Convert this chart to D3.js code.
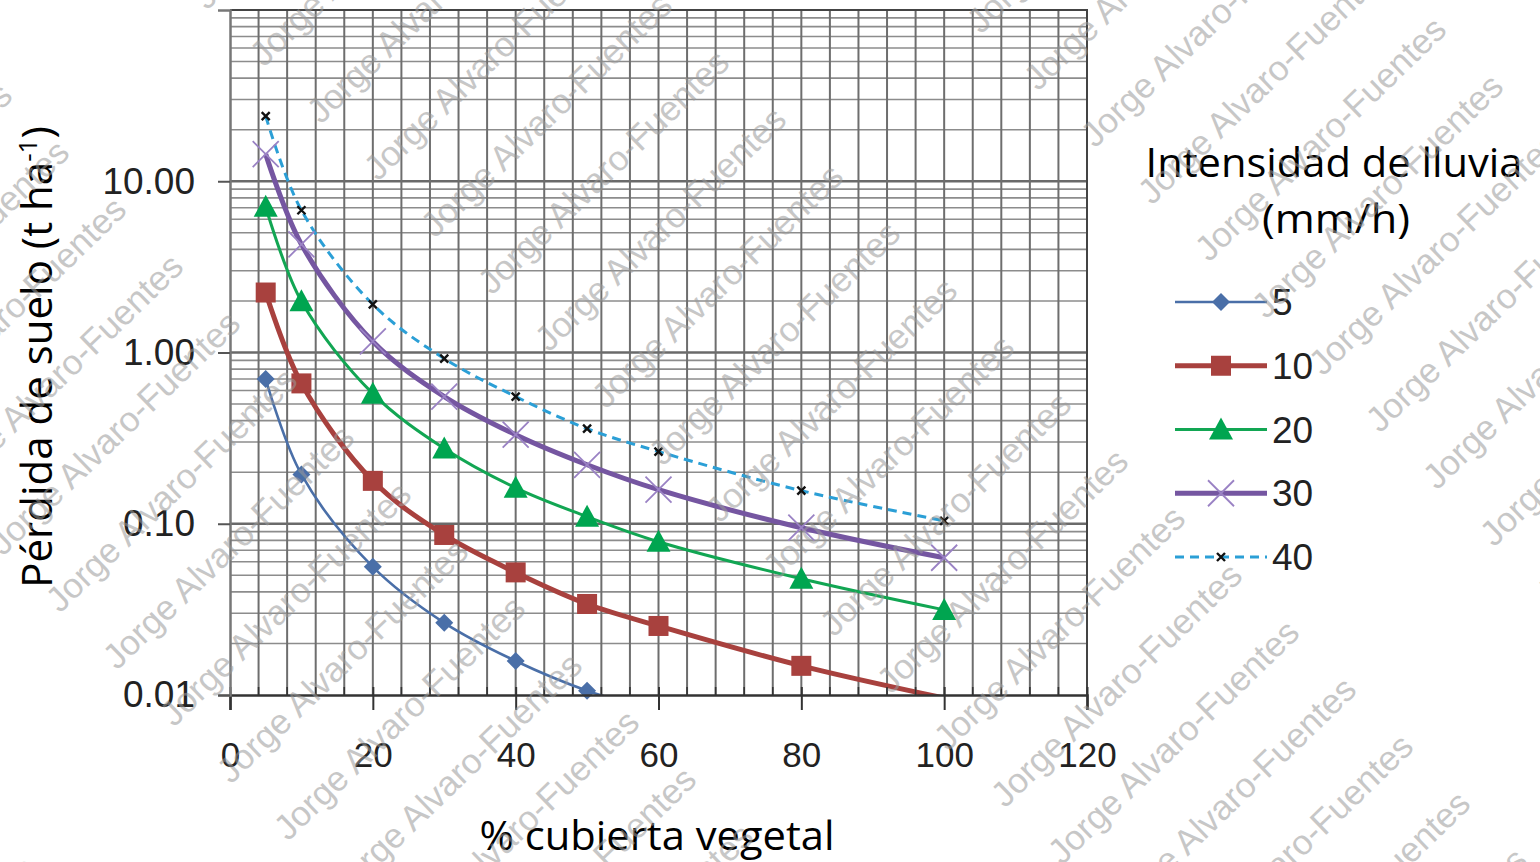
<!DOCTYPE html>
<html>
<head>
<meta charset="utf-8">
<script src="https://cdn.jsdelivr.net/npm/d3@7"></script>
<style>
  body { margin: 0; background: #fff; }
</style>
</head>
<body>
<div id="chart"></div>
<script>
// % cubierta vegetal
let cover = [5, 10, 20, 30, 40, 50, 60, 80, 100];
// perdida de suelo (t/ha) per rain intensity (mm/h)
let loss5  = [0.70, 0.194, 0.056, 0.0264, 0.0158, 0.0106, 0.0080];
let loss10 = [2.24, 0.66, 0.178, 0.086, 0.052, 0.034, 0.0253, 0.0148, 0.0096];
let loss20 = [7.1, 1.99, 0.575, 0.275, 0.162, 0.110, 0.0785, 0.0477, 0.0314];
let loss30 = [14.4, 4.28, 1.16, 0.553, 0.331, 0.221, 0.158, 0.0948, 0.0633];
let loss40 = [24.0, 6.77, 1.91, 0.922, 0.553, 0.359, 0.264, 0.156, 0.104];
let seriesNames = ['5', '10', '20', '30', '40'];
let xTicks = [0, 20, 40, 60, 80, 100, 120];
let yTicks = [10, 1, 0.1, 0.01];

let w = 1540, h = 862;
let pLeft = 230, pRight = 1087, pTop = 10, pBottom = 695;

let svg = d3.select('#chart').append('svg')
  .attr('width', w).attr('height', h)
  .style('font-family', 'Liberation Sans, Arial, sans-serif');

let x = d3.scaleLinear().domain([0, 120]).range([pLeft, pRight]);
let y = d3.scaleLog().domain([0.01, 100]).range([pBottom, pTop]);

// grid
let grid = svg.append('g');
let minorY = [];
[-2, -1, 0, 1].forEach(e => { for (let k = 2; k <= 9; k++) minorY.push(k * Math.pow(10, e)); });
grid.selectAll('.hmin').data(minorY).enter().append('line')
  .attr('x1', pLeft).attr('x2', pRight)
  .attr('y1', d => y(d)).attr('y2', d => y(d))
  .style('stroke', '#8c8c8c').style('stroke-width', 1.6);
grid.selectAll('.hmaj').data([0.1, 1, 10]).enter().append('line')
  .attr('x1', pLeft).attr('x2', pRight)
  .attr('y1', d => y(d)).attr('y2', d => y(d))
  .style('stroke', '#6a6a6a').style('stroke-width', 2.4);
grid.selectAll('.v').data(d3.range(4, 120, 4)).enter().append('line')
  .attr('x1', d => x(d)).attr('x2', d => x(d))
  .attr('y1', pTop).attr('y2', pBottom)
  .style('stroke', '#6e6e6e').style('stroke-width', 2);

// plot border top/right
svg.append('path')
  .attr('d', `M${pLeft},${pTop}H${pRight}V${pBottom}`)
  .style('fill', 'none').style('stroke', '#444').style('stroke-width', 2);

// series
let series = [
  {name: seriesNames[0], vals: loss5,  color: '#4a6fa8', width: 2.6, dash: null, marker: 'diamond'},
  {name: seriesNames[1], vals: loss10, color: '#a8413e', width: 5,   dash: null, marker: 'square'},
  {name: seriesNames[2], vals: loss20, color: '#12a653', width: 3,   dash: null, marker: 'triangle'},
  {name: seriesNames[3], vals: loss30, color: '#7556a1', width: 5,   dash: null, marker: 'cross'},
  {name: seriesNames[4], vals: loss40, color: '#2b9fd6', width: 3,   dash: '9,6', marker: 'x'}
];

svg.append('clipPath').attr('id', 'clip').append('rect')
  .attr('x', pLeft).attr('y', pTop).attr('width', pRight - pLeft).attr('height', pBottom - pTop);

let line = d3.line()
  .x((d, i) => x(cover[i]))
  .y(d => y(d))
  .curve(d3.curveCatmullRom.alpha(0.5));

let plot = svg.append('g').attr('clip-path', 'url(#clip)');
let markLayer = svg.append('g');

function drawMarker(g, s, cx, cy) {
  if (s.marker === 'diamond') {
    g.append('path').attr('d', `M${cx},${cy - 9}L${cx + 9},${cy}L${cx},${cy + 9}L${cx - 9},${cy}Z`)
      .style('fill', s.color);
  } else if (s.marker === 'square') {
    g.append('rect').attr('x', cx - 10).attr('y', cy - 10).attr('width', 20).attr('height', 20)
      .style('fill', s.color);
  } else if (s.marker === 'triangle') {
    g.append('path').attr('d', `M${cx},${cy - 12}L${cx + 12},${cy + 10}L${cx - 12},${cy + 10}Z`)
      .style('fill', '#00a550');
  } else if (s.marker === 'cross') {
    g.append('path').attr('d', `M${cx - 13},${cy - 13}L${cx + 13},${cy + 13}M${cx - 13},${cy + 13}L${cx + 13},${cy - 13}`)
      .style('stroke', '#9a82c4').style('stroke-width', 1.8).style('fill', 'none');
  } else {
    g.append('path').attr('d', `M${cx - 4},${cy - 4}L${cx + 4},${cy + 4}M${cx - 4},${cy + 4}L${cx + 4},${cy - 4}`)
      .style('stroke', '#111').style('stroke-width', 2.4).style('fill', 'none');
  }
}

series.forEach(s => {
  plot.append('path').datum(s.vals)
    .attr('d', line)
    .style('fill', 'none')
    .style('stroke', s.color)
    .style('stroke-width', s.width)
    .style('stroke-dasharray', s.dash);
  s.vals.forEach((v, i) => {
    if (v >= 0.01) drawMarker(markLayer, s, x(cover[i]), y(v));
  });
});

// axes
let xAxis = d3.axisBottom(x).tickValues(xTicks).tickFormat(d3.format('d'))
  .tickSize(15).tickPadding(32);
let gx = svg.append('g').attr('transform', 'translate(0,' + pBottom + ')').call(xAxis);
gx.select('.domain').style('stroke', '#333').style('stroke-width', 2.5);
gx.selectAll('.tick line').attr('y1', -8).style('stroke', '#333').style('stroke-width', 2);
gx.selectAll('.tick text').style('font-size', '35px').style('fill', '#222')
  .style('font-family', 'Liberation Sans, Arial, sans-serif');
gx.selectAll('.minor').data(d3.range(4, 120, 4).filter(d => d % 20)).enter().append('line')
  .attr('x1', d => x(d)).attr('x2', d => x(d)).attr('y1', -8).attr('y2', 0)
  .style('stroke', '#333').style('stroke-width', 1.6);

let yAxis = d3.axisLeft(y).tickValues(yTicks).tickFormat(d3.format('.2f'))
  .tickSize(12).tickPadding(23);
let gy = svg.append('g').attr('transform', 'translate(' + pLeft + ',0)').call(yAxis);
gy.select('.domain').style('stroke', '#777').style('stroke-width', 2.5);
gy.selectAll('.tick line').style('stroke', '#555').style('stroke-width', 2);
gy.selectAll('.tick text').style('font-size', '37px').style('fill', '#222')
  .style('font-family', 'Liberation Sans, Arial, sans-serif');

// axis titles
svg.append('text')
  .text('% cubierta vegetal')
  .attr('x', 657).attr('y', 850)
  .attr('text-anchor', 'middle')
  .attr('textLength', 355).attr('lengthAdjust', 'spacingAndGlyphs')
  .style('font-family', 'Open Sans, sans-serif').style('font-size', '40px').style('fill', '#000');

let yt = svg.append('text')
  .attr('transform', 'translate(52,357) rotate(-90)')
  .attr('text-anchor', 'middle')
  .style('font-family', 'Open Sans, sans-serif').style('font-size', '42px').style('fill', '#000');
yt.append('tspan').text('Pérdida de suelo (t ha');
yt.append('tspan').text('-1').attr('dy', -15).style('font-size', '26px');
yt.append('tspan').text(')').attr('dy', 15);

// legend
let lg = svg.append('g');
lg.append('text').text('Intensidad de lluvia')
  .attr('x', 1334).attr('y', 177).attr('text-anchor', 'middle')
  .attr('textLength', 377).attr('lengthAdjust', 'spacingAndGlyphs')
  .style('font-family', 'Open Sans, sans-serif').style('font-size', '40px');
lg.append('text').text('(mm/h)')
  .attr('x', 1336).attr('y', 233).attr('text-anchor', 'middle')
  .attr('textLength', 148).attr('lengthAdjust', 'spacingAndGlyphs')
  .style('font-family', 'Open Sans, sans-serif').style('font-size', '40px');

let legendY = d3.scalePoint().domain(seriesNames).range([302, 557]);
series.forEach(s => {
  let ly = legendY(s.name);
  lg.append('line').attr('x1', 1175).attr('x2', 1267).attr('y1', ly).attr('y2', ly)
    .style('stroke', s.color).style('stroke-width', s.width).style('stroke-dasharray', s.dash);
  drawMarker(lg, s, 1221, ly);
  lg.append('text').text(s.name).attr('x', 1272).attr('y', ly + 13)
    .style('font-size', '37px').style('fill', '#222');
});

// watermark
let wm = svg.append('g').style('pointer-events', 'none');
let marks = [];
for (let m = -3; m <= 2; m++) {
  for (let n = -2; n <= 24; n++) {
    let a = -196 + 750 * m, b = 104 + 114 * n;
    let px = (b - a) / 2, py = (b + a) / 2;
    if (px > -400 && px < 1600 && py > -20 && py < 1250) marks.push([px, py]);
  }
}
wm.selectAll('text').data(marks).enter().append('text')
  .text('Jorge Alvaro-Fuentes')
  .attr('transform', d => `translate(${d[0]},${d[1]}) rotate(-44)`)
  .style('font-family', 'Liberation Sans, Arial, sans-serif')
  .style('font-size', '35px')
  .style('fill', '#9a9a9a')
  .style('opacity', 0.55);
</script>
</body>
</html>
